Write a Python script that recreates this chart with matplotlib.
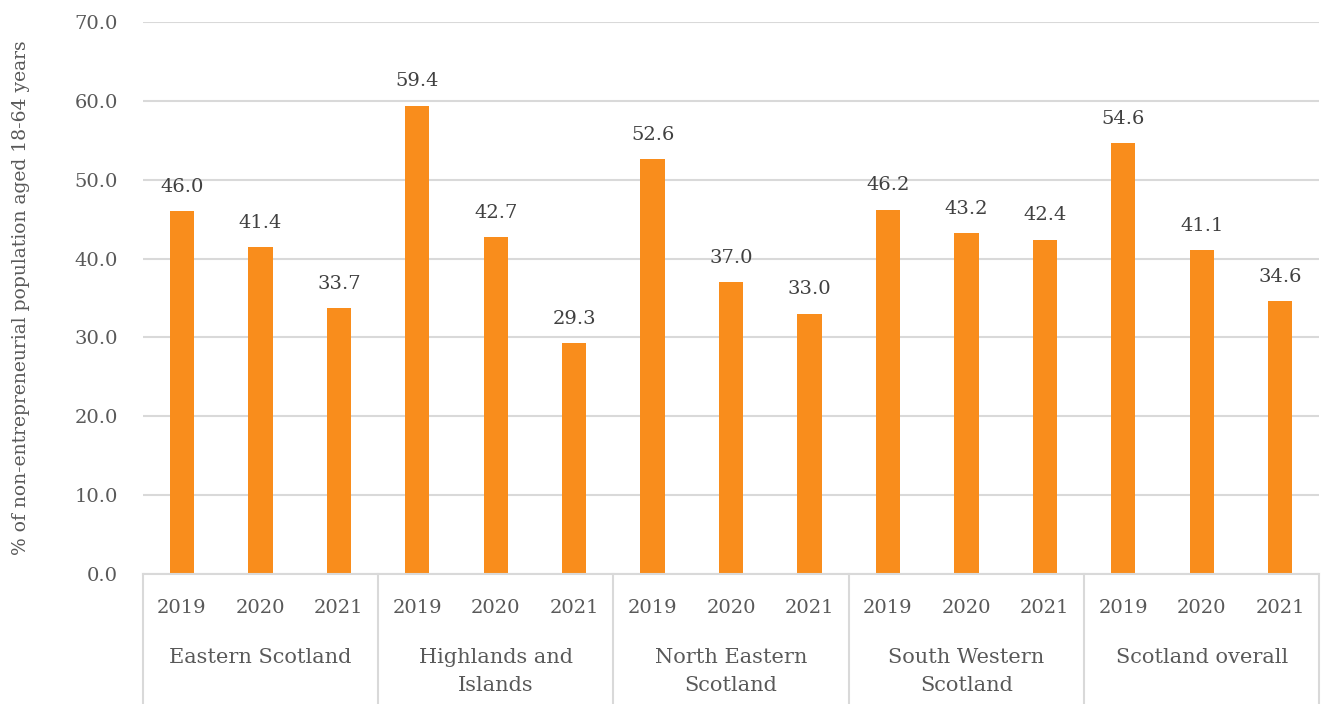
import matplotlib.pyplot as plt
import matplotlib.transforms as mtransforms

regions = ['Eastern Scotland', 'Highlands and\nIslands', 'North Eastern\nScotland',
           'South Western\nScotland', 'Scotland overall']
years = ['2019', '2020', '2021']
values = [
    [46.0, 41.4, 33.7],
    [59.4, 42.7, 29.3],
    [52.6, 37.0, 33.0],
    [46.2, 43.2, 42.4],
    [54.6, 41.1, 34.6],
]

bar_color = '#F98D1C'
grid_color = '#D9D9D9'
text_color = '#595959'

plt.rcParams['font.family'] = ['DejaVu Serif']

fig = plt.figure(figsize=(13.22, 7.04), dpi=100)
ax = fig.add_axes([0.108, 0.1847, 0.890, 0.7841])

# flatten groups into one run of bars
x_pos = []
heights = []
labels = []
for i, group in enumerate(values):
    for j, v in enumerate(group):
        x_pos.append(i * len(years) + j)
        heights.append(v)
        labels.append(years[j])

ax.bar(x_pos, heights, width=0.31, color=bar_color, zorder=3)

for x, v in zip(x_pos, heights):
    ax.annotate('%.1f' % v, (x, v), xytext=(0, 11), textcoords='offset points',
                ha='center', va='bottom', fontsize=14, color='#404040')

ax.set_xlim(-0.5, len(x_pos) - 0.5)
ax.set_ylim(0, 70)
ax.set_yticks(range(0, 71, 10))
ax.set_yticklabels(['%.1f' % t for t in range(0, 71, 10)], fontsize=14, color=text_color)
ax.tick_params(axis='y', length=0, pad=18)
ax.set_xticks([])
ax.yaxis.grid(True, color=grid_color, linewidth=1.5, zorder=0)
for s in ax.spines.values():
    s.set_visible(False)

ax.set_ylabel('% of non-entrepreneurial population aged 18-64 years', fontsize=13.5,
              color=text_color, labelpad=32)

# category axis below the plot
trans = mtransforms.blended_transform_factory(ax.transData, ax.transAxes)
ax.plot([-0.5, len(x_pos) - 0.5], [0, 0], color=grid_color, linewidth=1.5,
        transform=trans, clip_on=False, zorder=4)
n = len(years)
for i in range(len(regions) + 1):
    xs = i * n - 0.5
    ax.plot([xs, xs], [0, -0.24], color=grid_color, linewidth=1.5,
            transform=trans, clip_on=False)
for x, lab in zip(x_pos, labels):
    ax.text(x, -0.062, lab, transform=trans, ha='center', va='center',
            fontsize=14, color=text_color)
for i, reg in enumerate(regions):
    ax.text(i * n + 1, -0.135, reg, transform=trans, ha='center', va='top',
            fontsize=15, color=text_color, linespacing=1.55)

fig.savefig('out.png', dpi=100)
